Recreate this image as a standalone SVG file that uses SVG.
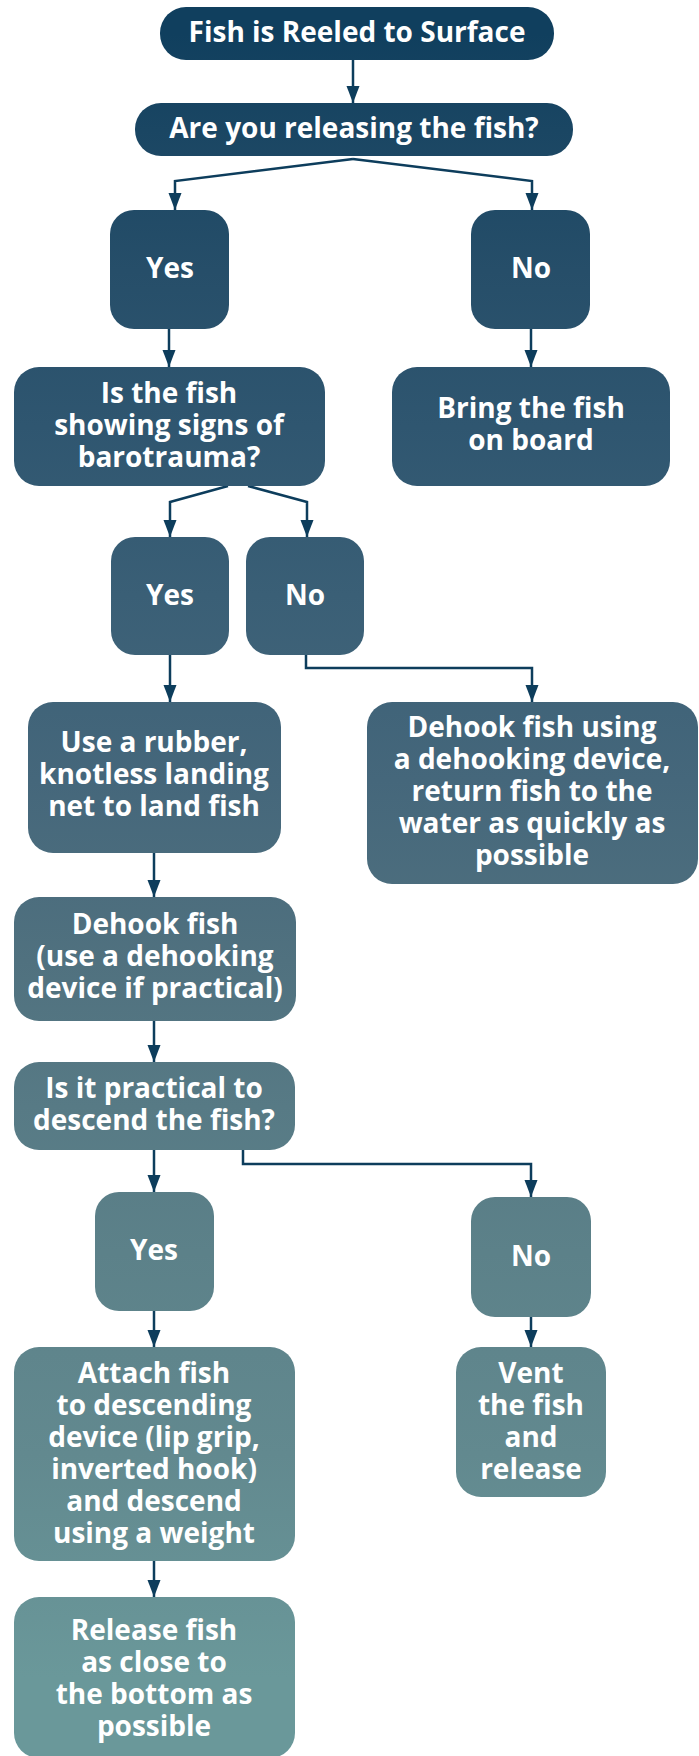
<svg xmlns="http://www.w3.org/2000/svg" width="699" height="1756" viewBox="0 0 699 1756">
<defs>
<linearGradient id="g" gradientUnits="userSpaceOnUse" x1="0" y1="0" x2="0" y2="1756">
<stop offset="0.019" stop-color="#103f5e"/>
<stop offset="0.074" stop-color="#1a4663"/>
<stop offset="0.154" stop-color="#264e69"/>
<stop offset="0.243" stop-color="#2f5670"/>
<stop offset="0.339" stop-color="#3a5f76"/>
<stop offset="0.444" stop-color="#45677b"/>
<stop offset="0.547" stop-color="#50717f"/>
<stop offset="0.63" stop-color="#577a85"/>
<stop offset="0.713" stop-color="#5c8189"/>
<stop offset="0.828" stop-color="#62898f"/>
<stop offset="0.955" stop-color="#6a989a"/>
</linearGradient>
<marker id="ah" markerUnits="userSpaceOnUse" markerWidth="18" markerHeight="14" refX="17" refY="6.5" orient="auto">
<path d="M0,0 L17,6.5 L0,13 z" fill="#0d3d5c"/>
</marker>
<style>
.n{fill:url(#g);}
.t{font-family:"Open Sans","Liberation Sans",sans-serif;font-weight:700;font-size:28px;fill:#ffffff;text-anchor:middle;}
.c{fill:none;stroke:#0d3d5c;stroke-width:2.5;marker-end:url(#ah);}
</style>
</defs>
<g id="connectors">
<path class="c" d="M353,60 V103"/>
<path class="c" d="M353,159 L175,181 V210"/>
<path class="c" d="M353,159 L532,181 V210"/>
<path class="c" d="M169,329 V367"/>
<path class="c" d="M531,329 V367"/>
<path class="c" d="M228,486 L170,502 V537"/>
<path class="c" d="M248,486 L307,502 V537"/>
<path class="c" d="M170,655 V702"/>
<path class="c" d="M306,655 V668 H532 V702"/>
<path class="c" d="M154,853 V897"/>
<path class="c" d="M154,1021 V1062"/>
<path class="c" d="M154,1150 V1192"/>
<path class="c" d="M243,1150 V1164 H531 V1197"/>
<path class="c" d="M154,1311 V1347"/>
<path class="c" d="M531,1317 V1347"/>
<path class="c" d="M154,1561 V1597"/>
</g>
<g id="n-surface"><rect class="n" x="160" y="7" width="394" height="53" rx="26"/>
<text class="t" x="357" y="42">Fish is Reeled to Surface</text></g>
<g id="n-releasing"><rect class="n" x="135" y="103" width="438" height="53" rx="26"/>
<text class="t" x="354" y="138">Are you releasing the fish?</text></g>
<g id="n-yes1"><rect class="n" x="110" y="210" width="119" height="119" rx="24"/>
<text class="t" x="170" y="278">Yes</text></g>
<g id="n-no1"><rect class="n" x="471" y="210" width="119" height="119" rx="24"/>
<text class="t" x="531" y="278">No</text></g>
<g id="n-barotrauma"><rect class="n" x="14" y="367" width="311" height="119" rx="25"/>
<text class="t" x="169" y="403">Is the fish</text>
<text class="t" x="169" y="435">showing signs of</text>
<text class="t" x="169" y="467">barotrauma?</text></g>
<g id="n-bring"><rect class="n" x="392" y="367" width="278" height="119" rx="25"/>
<text class="t" x="531" y="418">Bring the fish</text>
<text class="t" x="531" y="450">on board</text></g>
<g id="n-yes2"><rect class="n" x="111" y="537" width="118" height="118" rx="24"/>
<text class="t" x="170" y="605">Yes</text></g>
<g id="n-no2"><rect class="n" x="246" y="537" width="118" height="118" rx="24"/>
<text class="t" x="305" y="605">No</text></g>
<g id="n-net"><rect class="n" x="28" y="702" width="253" height="151" rx="25"/>
<text class="t" x="154" y="752">Use a rubber,</text>
<text class="t" x="154" y="784">knotless landing</text>
<text class="t" x="154" y="816">net to land fish</text></g>
<g id="n-dehook-return"><rect class="n" x="367" y="702" width="331" height="182" rx="25"/>
<text class="t" x="532" y="737">Dehook fish using</text>
<text class="t" x="532" y="769">a dehooking device,</text>
<text class="t" x="532" y="801">return fish to the</text>
<text class="t" x="532" y="833">water as quickly as</text>
<text class="t" x="532" y="865">possible</text></g>
<g id="n-dehook"><rect class="n" x="14" y="897" width="282" height="124" rx="25"/>
<text class="t" x="155" y="934">Dehook fish</text>
<text class="t" x="155" y="966">(use a dehooking</text>
<text class="t" x="155" y="998">device if practical)</text></g>
<g id="n-practical"><rect class="n" x="14" y="1062" width="281" height="88" rx="25"/>
<text class="t" x="154" y="1098">Is it practical to</text>
<text class="t" x="154" y="1130">descend the fish?</text></g>
<g id="n-yes3"><rect class="n" x="95" y="1192" width="119" height="119" rx="24"/>
<text class="t" x="154" y="1260">Yes</text></g>
<g id="n-no3"><rect class="n" x="471" y="1197" width="120" height="120" rx="24"/>
<text class="t" x="531" y="1266">No</text></g>
<g id="n-attach"><rect class="n" x="14" y="1347" width="281" height="214" rx="25"/>
<text class="t" x="154" y="1383">Attach fish</text>
<text class="t" x="154" y="1415">to descending</text>
<text class="t" x="154" y="1447">device (lip grip,</text>
<text class="t" x="154" y="1479">inverted hook)</text>
<text class="t" x="154" y="1511">and descend</text>
<text class="t" x="154" y="1543">using a weight</text></g>
<g id="n-vent"><rect class="n" x="456" y="1347" width="150" height="150" rx="25"/>
<text class="t" x="531" y="1383">Vent</text>
<text class="t" x="531" y="1415">the fish</text>
<text class="t" x="531" y="1447">and</text>
<text class="t" x="531" y="1479">release</text></g>
<g id="n-release"><rect class="n" x="14" y="1597" width="281" height="161" rx="25"/>
<text class="t" x="154" y="1640">Release fish</text>
<text class="t" x="154" y="1672">as close to</text>
<text class="t" x="154" y="1704">the bottom as</text>
<text class="t" x="154" y="1736">possible</text></g>
</svg>
